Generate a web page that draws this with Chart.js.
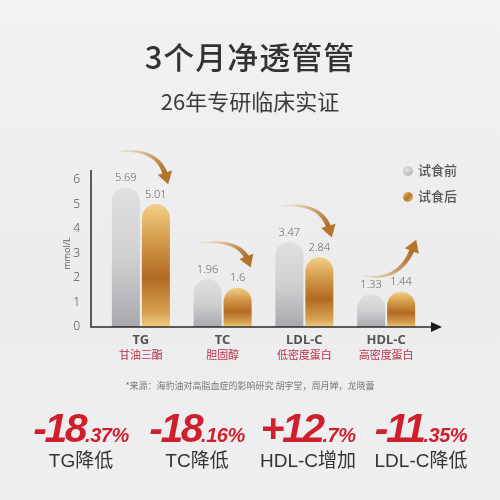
<!DOCTYPE html>
<html>
<head>
<meta charset="utf-8">
<script src="https://cdn.jsdelivr.net/npm/chart.js@4"></script>
<style>
html, body { margin: 0; padding: 0; }
body {
    width: 500px; height: 500px; overflow: hidden; position: relative;
    background: linear-gradient(180deg, #f2f2f4 0%, #ececee 55%, #efeff1 100%);
    font-family: "Noto Sans CJK SC", "Noto Sans", sans-serif;
}
#wrap { position: absolute; left: 0; top: 0; width: 500px; height: 500px; }
.txt { position: absolute; left: 0; width: 500px; text-align: center; color: #333; white-space: nowrap; }
#title { top: 36px; font-size: 31px; line-height: 40px; font-weight: 500; letter-spacing: 1px; }
#subtitle { top: 86px; font-size: 22px; line-height: 28px; color: #3a3a3a; }
#source { top: 379px; font-size: 9px; line-height: 14px; color: #777; }
.legend { position: absolute; left: 403px; font-size: 13px; line-height: 16px; color: #555; font-weight: 500; }
.legend i { display: inline-block; width: 10px; height: 10px; border-radius: 50%; margin-right: 5px; vertical-align: -1px; }
.stat { position: absolute; width: 140px; text-align: center; white-space: nowrap; }
.stat .num { font-family: "Liberation Sans", Arial, sans-serif; font-weight: bold; font-style: italic; color: #cf1f2d; line-height: 44px; height: 44px; }
.stat .big { font-size: 41px; letter-spacing: -2.5px; }
.stat .small { font-size: 20px; letter-spacing: -0.5px; }
.stat .lbl { font-family: "Liberation Sans", "Noto Sans CJK SC", sans-serif; font-size: 19px; line-height: 22px; color: #333; }
</style>
</head>
<body>
<div id="wrap"><canvas id="lipidChart"></canvas></div>
<div class="txt" id="title">3个月净透管管</div>
<div class="txt" id="subtitle">26年专研临床实证</div>
<div class="legend" id="legBefore" style="top:162px"></div>
<div class="legend" id="legAfter" style="top:188px"></div>
<div class="txt" id="source">*来源：海豹油对高脂血症的影响研究 胡宇堂，周月婵，龙晓蕾</div>
<div id="stats"></div>

<script>
// chart data
const categories = ["TG", "TC", "LDL-C", "HDL-C"];
const subLabels = ["甘油三酯", "胆固醇", "低密度蛋白", "高密度蛋白"];
const beforeValues = [5.69, 1.96, 3.47, 1.33];
const afterValues = [5.01, 1.6, 2.84, 1.44];
const seriesNames = ["试食前", "试食后"];
const yTicks = [0, 1, 2, 3, 4, 5, 6];

// change summary under the chart
const statMain = ["-18", "-18", "+12", "-11"];
const statDecimal = [".37%", ".16%", ".7%", ".35%"];
const statLabels = ["TG降低", "TC降低", "HDL-C增加", "LDL-C降低"];
const statCenters = [81, 197, 308, 421];

// legend
document.getElementById("legBefore").innerHTML =
    '<i style="background:radial-gradient(circle at 40% 35%, #e4e4e6, #a9a9ad)"></i>' + seriesNames[0];
document.getElementById("legAfter").innerHTML =
    '<i style="background:linear-gradient(135deg, #f1cd86 0%, #b8752a 50%, #f0c880 100%)"></i>' + seriesNames[1];

// stats row
const statsDiv = document.getElementById("stats");
statMain.forEach((m, i) => {
    const el = document.createElement("div");
    el.className = "stat";
    el.style.left = (statCenters[i] - 70) + "px";
    el.style.top = "406px";
    el.innerHTML = '<div class="num"><span class="big">' + m + '</span><span class="small">' +
        statDecimal[i] + '</span></div><div class="lbl">' + statLabels[i] + '</div>';
    statsDiv.appendChild(el);
});

function barGradient(ctx, kind) {
    const chart = ctx.chart;
    if (!chart.chartArea) return kind === "gray" ? "#c8c8ca" : "#c98a3a";
    const y = chart.scales.y;
    const top = y.getPixelForValue(ctx.raw);
    const bottom = y.getPixelForValue(0);
    const g = chart.ctx.createLinearGradient(0, top, 0, bottom);
    if (kind === "gray") {
        g.addColorStop(0, "#e0e0e2");
        g.addColorStop(0.5, "#d0d0d2");
        g.addColorStop(1, "#a9a8ad");
    } else {
        g.addColorStop(0, "#f2cf88");
        g.addColorStop(0.3, "#d39a4a");
        g.addColorStop(0.6, "#b26a22");
        g.addColorStop(0.88, "#d6a050");
        g.addColorStop(1, "#f0cb82");
    }
    return g;
}

function drawArrow(ctx, sx, sy, cx, cy, ex, ey) {
    const n = 24;
    let px = sx, py = sy;
    ctx.lineCap = "round";
    for (let k = 1; k <= n; k++) {
        const t = k / n;
        const qx = (1 - t) * (1 - t) * sx + 2 * (1 - t) * t * cx + t * t * ex;
        const qy = (1 - t) * (1 - t) * sy + 2 * (1 - t) * t * cy + t * t * ey;
        const r = Math.round(238 - 62 * t), gg = Math.round(212 - 100 * t), b = Math.round(165 - 120 * t);
        ctx.strokeStyle = "rgba(" + r + "," + gg + "," + b + "," + (0.3 + 0.7 * t) + ")";
        ctx.lineWidth = 1.2 + 3.8 * t;
        ctx.beginPath(); ctx.moveTo(px, py); ctx.lineTo(qx, qy); ctx.stroke();
        px = qx; py = qy;
    }
    // arrow head
    const ang = Math.atan2(ey - cy, ex - cx);
    const len = 12, half = 7.5;
    const tipX = ex + Math.cos(ang) * len * 0.7, tipY = ey + Math.sin(ang) * len * 0.7;
    const bx = ex - Math.cos(ang) * len * 0.3, by = ey - Math.sin(ang) * len * 0.3;
    ctx.fillStyle = "#b47429";
    ctx.beginPath();
    ctx.moveTo(tipX, tipY);
    ctx.lineTo(bx + Math.cos(ang + Math.PI / 2) * half, by + Math.sin(ang + Math.PI / 2) * half);
    ctx.lineTo(bx + Math.cos(ang - Math.PI / 2) * half, by + Math.sin(ang - Math.PI / 2) * half);
    ctx.closePath();
    ctx.fill();
}

// axes, value labels, category labels and arrows
const decorPlugin = {
    id: "decor",
    afterDatasetsDraw(chart) {
        const ctx = chart.ctx;
        const area = chart.chartArea;
        const xs = chart.scales.x, ys = chart.scales.y;
        const y0 = ys.getPixelForValue(0);
        const axisX = area.left - 9;
        ctx.save();

        ctx.strokeStyle = "#2a2a2a";
        ctx.lineWidth = 1.5;
        ctx.beginPath();
        ctx.moveTo(axisX, area.top);
        ctx.lineTo(axisX, y0);
        ctx.lineTo(area.right + 6, y0);
        ctx.stroke();
        ctx.fillStyle = "#1a1a1a";
        ctx.beginPath();
        ctx.moveTo(area.right + 15, y0);
        ctx.lineTo(area.right + 4, y0 - 5);
        ctx.lineTo(area.right + 4, y0 + 5);
        ctx.closePath();
        ctx.fill();

        // y title
        ctx.save();
        ctx.translate(axisX - 24, (area.top + y0) / 2 + 5);
        ctx.rotate(-Math.PI / 2);
        ctx.fillStyle = "#666";
        ctx.font = "9px 'Noto Sans', sans-serif";
        ctx.textAlign = "center";
        ctx.textBaseline = "middle";
        ctx.fillText("mmol/L", 0, 0);
        ctx.restore();

        // value labels
        ctx.font = "300 11px 'Noto Sans', sans-serif";
        ctx.fillStyle = "#666";
        ctx.textAlign = "center";
        ctx.textBaseline = "bottom";
        chart.data.datasets.forEach((ds, di) => {
            chart.getDatasetMeta(di).data.forEach((bar, i) => {
                ctx.fillText(String(ds.data[i]), bar.x, bar.y - 4);
            });
        });

        // category labels
        ctx.textBaseline = "middle";
        categories.forEach((c, i) => {
            const cx = xs.getPixelForValue(i);
            ctx.font = "bold 13px 'Noto Sans', sans-serif";
            ctx.fillStyle = "#555";
            ctx.fillText(c, cx, y0 + 13);
            ctx.font = "11px 'Noto Sans CJK SC', sans-serif";
            ctx.fillStyle = "#b7344a";
            ctx.fillText(subLabels[i], cx, y0 + 28);
        });

        // curved arrows from before-bar to after-bar
        const mb = chart.getDatasetMeta(0).data, ma = chart.getDatasetMeta(1).data;
        categories.forEach((c, i) => {
            const g = mb[i], o = ma[i];
            if (afterValues[i] < beforeValues[i]) {
                drawArrow(ctx, g.x - 8, g.y - 36, o.x + 2, g.y - 40, o.x + 10, o.y - 28);
            } else {
                drawArrow(ctx, g.x - 10, g.y - 19, o.x - 2, g.y - 11, o.x + 12, o.y - 44);
            }
        });
        ctx.restore();
    }
};

const chart = new Chart(document.getElementById("lipidChart"), {
    type: "bar",
    data: {
        labels: categories,
        datasets: [
            {
                label: seriesNames[0],
                data: beforeValues,
                backgroundColor: ctx => barGradient(ctx, "gray"),
                borderRadius: { topLeft: 14, topRight: 14 },
                borderSkipped: "bottom",
                categoryPercentage: 0.734,
                barPercentage: 0.933
            },
            {
                label: seriesNames[1],
                data: afterValues,
                backgroundColor: ctx => barGradient(ctx, "gold"),
                borderRadius: { topLeft: 14, topRight: 14 },
                borderSkipped: "bottom",
                categoryPercentage: 0.734,
                barPercentage: 0.933
            }
        ]
    },
    options: {
        responsive: true,
        maintainAspectRatio: false,
        animation: false,
        layout: { padding: { left: 0, right: 73, top: 170, bottom: 173 } },
        plugins: { legend: { display: false }, tooltip: { enabled: false } },
        scales: {
            x: { display: false, offset: true },
            y: {
                min: 0,
                max: 6.4,
                afterBuildTicks: scale => { scale.ticks = yTicks.map(v => ({ value: v })); },
                afterFit: scale => { scale.width = 100; },
                grid: { display: false },
                border: { display: false },
                ticks: {
                    padding: 12,
                    color: "#555",
                    font: { family: "Noto Sans", size: 12, weight: "300" }
                }
            }
        }
    },
    plugins: [decorPlugin]
});
</script>
</body>
</html>
